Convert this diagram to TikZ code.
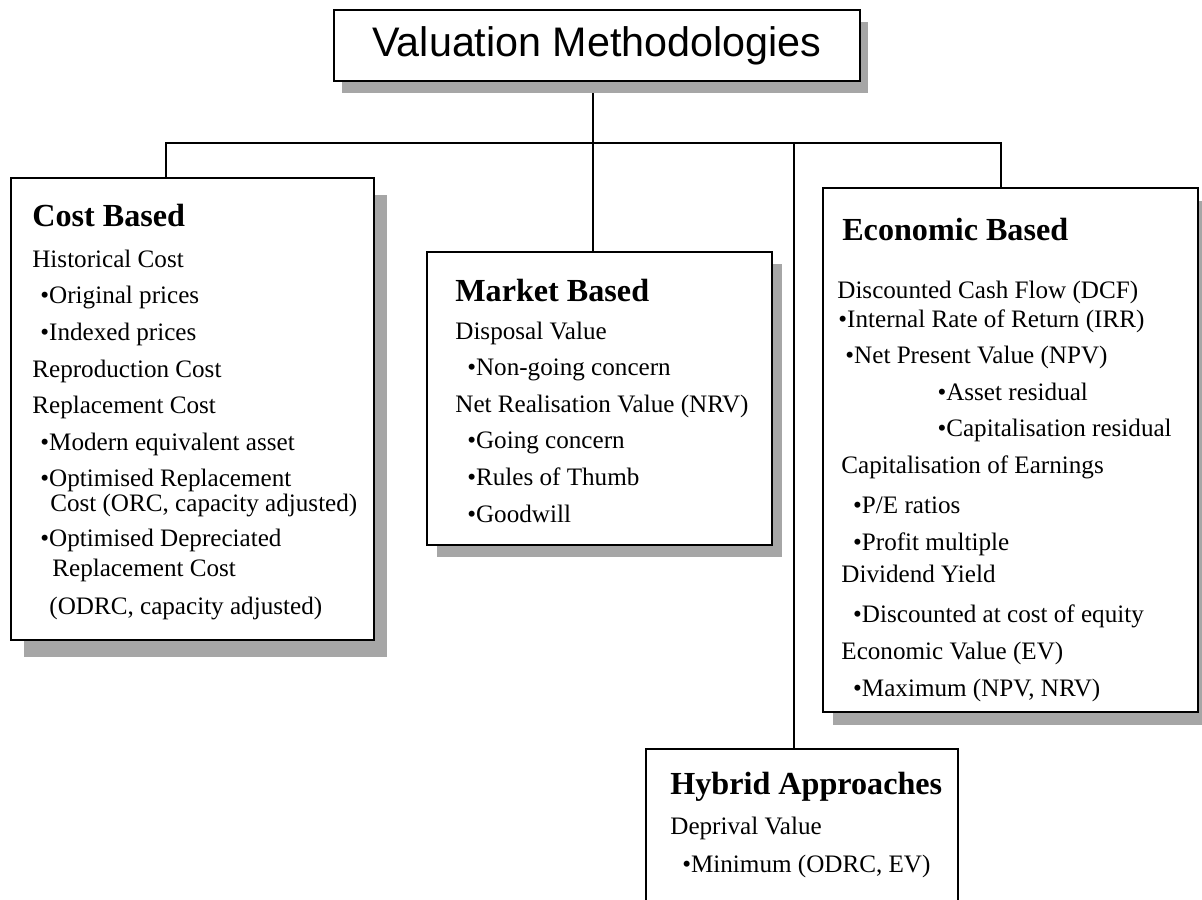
\documentclass[tikz,border=0pt]{standalone}
\usepackage{fontspec}
\setmainfont{Liberation Serif}
\newfontfamily\headsans{Liberation Sans}
\usetikzlibrary{shadows,backgrounds}
\definecolor{shadowgray}{RGB}{166,166,166}
\newcommand{\boxhead}[1]{{\fontsize{18.3}{22}\selectfont\bfseries #1}}
\setlength{\lineskiplimit}{-30pt}

\begin{document}
\begin{tikzpicture}[
  x=0.02cm,y=-0.02cm,
  panel/.style 2 args={draw=black,line width=1.3pt,fill=white,inner sep=0pt,
    drop shadow={shadow xshift=#1,shadow yshift=#2,fill=shadowgray,opacity=1}},
  plainpanel/.style={draw=black,line width=1.3pt,fill=white,inner sep=0pt},
  body/.style={anchor=north west,inner sep=0pt,align=left,
    font=\fontsize{14.3}{20.8}\selectfont},
  link/.style={line width=1.1pt,draw=black,line join=miter}
]
\useasboundingbox (0,0) rectangle (1202,899);
% title
\node[panel={0.16cm}{-0.24cm},minimum width=10.52cm,minimum height=1.42cm,
  font=\headsans\fontsize{23.5}{28}\selectfont] (title) at (597,45.5) {Valuation Methodologies};
% the four groups
\node[panel={0.26cm}{-0.34cm},minimum width=7.26cm,minimum height=9.24cm] (cost) at (192.5,409) {};
\node[panel={0.2cm}{-0.24cm},minimum width=6.9cm,minimum height=5.86cm] (market) at (599.5,398.5) {};
\node[panel={0.2cm}{-0.26cm},minimum width=7.5cm,minimum height=10.48cm] (econ) at (1010.5,450) {};
\node[plainpanel,minimum width=6.24cm,minimum height=3.62cm] (hybrid) at (802,839.5) {};
% texts
\node[body] (costtext) at (32,204) {\boxhead{Cost Based}\\[2.4pt]
  Historical Cost\\
  \hspace*{4.6pt}•Original prices\\
  \hspace*{4.6pt}•Indexed prices\\
  Reproduction Cost\\
  Replacement Cost\\
  \hspace*{4.6pt}•Modern equivalent asset\\
  \hspace*{4.6pt}•Optimised Replacement\\[-6.6pt]
  \hspace*{10.2pt}Cost (ORC, capacity adjusted)\\[-0.9pt]
  \hspace*{4.6pt}•Optimised Depreciated\\[-3.7pt]
  \hspace*{11.4pt}Replacement Cost\\[0.8pt]
  \hspace*{9.7pt}(ODRC, capacity adjusted)};
\node[body] (markettext) at (455,279) {\boxhead{Market Based}\\[0.65pt]
  Disposal Value\\
  \hspace*{6.8pt}•Non-going concern\\
  Net Realisation Value (NRV)\\
  \hspace*{6.8pt}•Going concern\\
  \hspace*{6.8pt}•Rules of Thumb\\
  \hspace*{6.8pt}•Goodwill};
\node[body] (econtext) at (837,218) {\hspace*{2.8pt}\boxhead{Economic Based}\\[12pt]
  Discounted Cash Flow (DCF)\\[-4.3pt]
  \hspace*{0.6pt}•Internal Rate of Return (IRR)\\
  \hspace*{4.6pt}•Net Present Value (NPV)\\
  \hspace*{57pt}•Asset residual\\
  \hspace*{57pt}•Capitalisation residual\\
  \hspace*{2.3pt}Capitalisation of Earnings\\[2pt]
  \hspace*{9pt}•P/E ratios\\
  \hspace*{9pt}•Profit multiple\\[-2.3pt]
  \hspace*{2.3pt}Dividend Yield\\[2.2pt]
  \hspace*{9pt}•Discounted at cost of equity\\
  \hspace*{2.3pt}Economic Value (EV)\\
  \hspace*{9pt}•Maximum (NPV, NRV)};
\node[body] (hybridtext) at (670,772) {\boxhead{Hybrid Approaches}\\[1.8pt]
  Deprival Value\\[0.8pt]
  \hspace*{6.8pt}•Minimum (ODRC, EV)};
% connectors
\coordinate (hub) at (593,143);
\coordinate (costdrop) at (166,143);
\coordinate (hybdrop) at (794,143);
\coordinate (econdrop) at (1001,143);
\begin{scope}[on background layer]
\draw[link] (title.south -| hub) -- (hub);
\draw[link] (costdrop |- cost.north) -- (costdrop) -- (econdrop) -- (econdrop |- econ.north);
\draw[link] (hub) -- (hub |- market.north);
\draw[link] (hybdrop) -- (hybdrop |- hybrid.north);
\end{scope}
\end{tikzpicture}
\end{document}
